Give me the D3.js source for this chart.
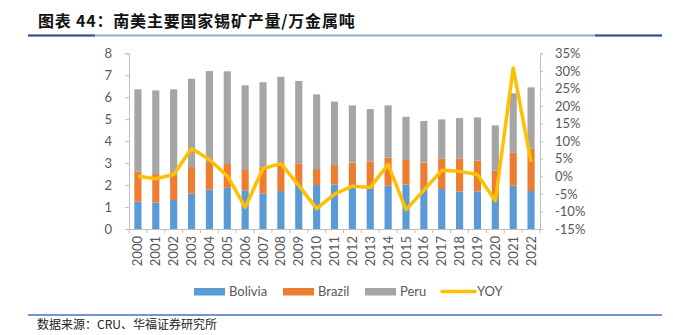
<!DOCTYPE html>
<html><head><meta charset="utf-8">
<script src="https://cdn.jsdelivr.net/npm/d3@7/dist/d3.min.js"></script>
<style>
html,body{margin:0;padding:0;background:#fff;}
svg{display:block;}
</style></head>
<body>
<svg id="chart" width="673" height="335"></svg>
<script>
const years = ["2000","2001","2002","2003","2004","2005","2006","2007","2008","2009","2010","2011","2012","2013","2014","2015","2016","2017","2018","2019","2020","2021","2022"];
const bolivia = [1.24,1.20,1.32,1.62,1.79,1.87,1.76,1.61,1.73,2.00,2.00,2.03,1.95,1.85,1.97,2.02,1.78,1.82,1.71,1.71,1.47,1.97,1.73];
const brazil  = [1.37,1.30,1.14,1.20,1.26,1.09,0.93,1.18,1.26,0.97,0.73,0.88,1.07,1.23,1.28,1.12,1.24,1.38,1.49,1.40,1.19,1.50,1.93];
const peru    = [3.75,3.81,3.90,4.02,4.14,4.22,3.85,3.89,3.94,3.77,3.40,2.89,2.61,2.38,2.38,1.97,1.90,1.79,1.85,1.97,2.06,2.71,2.79];
const yoy     = [0.0,-0.7,0.5,7.9,4.8,0.1,-8.8,2.2,3.6,-2.6,-9.2,-5.1,-2.8,-3.2,3.4,-9.5,-4.0,1.7,1.4,0.5,-7.0,30.8,4.1];
const leftTicks = [0,1,2,3,4,5,6,7,8];
const rightTicks = [-15,-10,-5,0,5,10,15,20,25,30,35];
const seriesNames = ["Bolivia","Brazil","Peru","YOY"];
const colors = {Bolivia:"#5b9bd5", Brazil:"#ed7d31", Peru:"#a5a5a5", YOY:"#ffc000"};
const titleText = "图表 44：南美主要国家锡矿产量/万金属吨";
const sourceText = "数据来源：CRU、华福证券研究所";

const svg = d3.select("#chart");
const txtFont = "Lato, 'Open Sans', sans-serif";
const gray = "#595959";
const axisColor = "#bfbfbf";

// title
svg.append("text").attr("x",38).attr("y",26.5)
  .attr("font-family","'Noto Sans CJK SC', sans-serif").attr("font-weight","bold")
  .attr("font-size","16px").attr("letter-spacing","0.8px").attr("fill","#111")
  .text(titleText);
svg.append("line").attr("x1",28).attr("x2",662).attr("y1",35.5).attr("y2",35.5)
  .attr("stroke","#8eaadb").attr("stroke-width",2);
svg.append("line").attr("x1",28).attr("x2",95).attr("y1",35.5).attr("y2",35.5)
  .attr("stroke","#2f5597").attr("stroke-width",2);
svg.append("line").attr("x1",595).attr("x2",662).attr("y1",35.5).attr("y2",35.5)
  .attr("stroke","#2f5597").attr("stroke-width",2);

// footer
svg.append("line").attr("x1",28).attr("x2",662).attr("y1",315).attr("y2",315)
  .attr("stroke","#4472c4").attr("stroke-width",1.5);
svg.append("text").attr("x",37).attr("y",329)
  .attr("font-family","'Noto Sans CJK SC', sans-serif")
  .attr("font-size","12px").attr("fill","#222").text(sourceText);

// scales
const x = d3.scaleBand().domain(years).range([129,540]).paddingInner(0.6).paddingOuter(0.3);
const xb = d3.scaleBand().domain(years).range([129,540]);
const yL = d3.scaleLinear().domain([0,8]).range([229,53.3]);
const yR = d3.scaleLinear().domain([-15,35]).range([229,53.3]);

// stacked bars
const rows = years.map((yr,i)=>({year:yr, Bolivia:bolivia[i], Brazil:brazil[i], Peru:peru[i]}));
const stack = d3.stack().keys(["Bolivia","Brazil","Peru"])(rows);
const barW = xb.bandwidth()*0.4;
svg.append("g").selectAll("g").data(stack).join("g")
  .attr("fill", d=>colors[d.key])
  .selectAll("rect").data(d=>d).join("rect")
  .attr("x", d=> xb(d.data.year) + (xb.bandwidth()-barW)/2)
  .attr("width", barW)
  .attr("y", d=> yL(d[1]))
  .attr("height", d=> yL(d[0]) - yL(d[1]));

// axes
const axL = svg.append("g").attr("transform","translate(129,0)")
  .call(d3.axisLeft(yL).tickValues(leftTicks).tickSize(4).tickPadding(13).tickFormat(d3.format("d")));
const axR = svg.append("g").attr("transform","translate(540,0)")
  .call(d3.axisRight(yR).tickValues(rightTicks).tickSize(3).tickPadding(12).tickFormat(d=>d+"%"));
const axB = svg.append("g").attr("transform","translate(0,229)")
  .call(d3.axisBottom(xb).tickSize(0).tickPadding(0));
// band boundary ticks on x axis
svg.append("g").selectAll("line").data(years.concat(["_end"])).join("line")
  .attr("x1",(d,i)=> i<years.length ? xb(d) : xb.range()[1])
  .attr("x2",(d,i)=> i<years.length ? xb(d) : xb.range()[1])
  .attr("y1",229).attr("y2",233).attr("stroke",axisColor).attr("stroke-width",1);

[axL,axR,axB].forEach(a=>{
  a.selectAll(".domain").attr("stroke",axisColor).attr("stroke-width",1);
  a.selectAll(".tick line").attr("stroke",axisColor);
  a.selectAll("text").attr("font-family",txtFont).attr("font-size","13px").attr("fill",gray);
});
axR.selectAll("text").attr("text-anchor","start");
axB.select(".domain").attr("d","M129,0.5H540");
axB.selectAll(".tick text")
  .attr("transform","rotate(-90)")
  .attr("text-anchor","end").attr("x",-7).attr("y",0).attr("dy","0.35em");

// YOY line
const line = d3.line().x((d,i)=> xb(years[i]) + xb.bandwidth()/2).y(d=> yR(d));
svg.append("path").datum(yoy).attr("d",line).attr("fill","none")
  .attr("stroke",colors.YOY).attr("stroke-width",3.5).attr("stroke-linejoin","round");

// legend
const legendX = [194,283,365,442];
const lg = svg.append("g").attr("font-family",txtFont).attr("font-size","13px").attr("fill",gray);
seriesNames.forEach((n,i)=>{
  if(n==="YOY"){
    lg.append("line").attr("x1",legendX[i]).attr("x2",legendX[i]+33).attr("y1",291.5).attr("y2",291.5)
      .attr("stroke",colors.YOY).attr("stroke-width",3.5).attr("stroke-linecap","round");
    lg.append("text").attr("x",legendX[i]+35).attr("y",291.5).attr("dy","0.35em").text(n);
  } else {
    lg.append("rect").attr("x",legendX[i]).attr("y",288).attr("width",31).attr("height",7.5).attr("fill",colors[n]);
    lg.append("text").attr("x",legendX[i]+35).attr("y",291.5).attr("dy","0.35em").text(n);
  }
});
</script>
</body></html>
